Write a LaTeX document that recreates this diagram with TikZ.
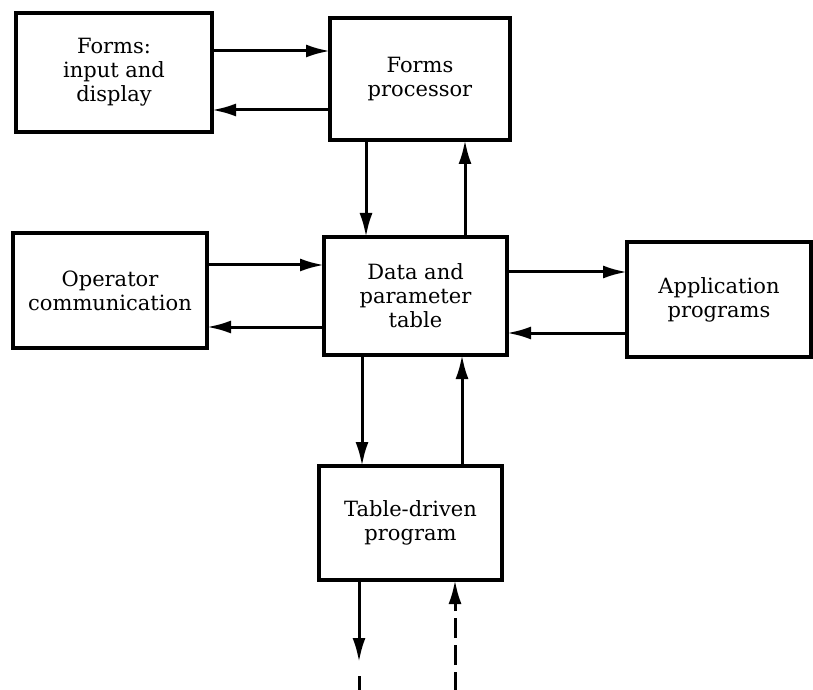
\documentclass[tikz,border=0pt]{standalone}
\usepackage{fontspec}
\setmainfont{DejaVu Serif}
\usetikzlibrary{arrows.meta, positioning}
\tikzset{
  arrowK/.style={-{Latex[length=24pt, width=13pt]}, line width=3pt},
  arrowKd/.style={-{Latex[length=24pt, width=13pt]}, line width=3pt,
                  dash pattern=on 20pt off 7pt},
  boxW/.style={rectangle, draw, line width=3.5pt, fill=white, align=center,
               font=\fontsize{21pt}{24pt}\selectfont, inner sep=4pt, outer sep=0pt},
}

\begin{document}
\begin{tikzpicture}[x=1pt, y=1pt]
    \useasboundingbox (0,0) rectangle (813,689);
    \node[boxW, minimum width=183pt, minimum height=118pt] (data) at (415.5,393)
          {Data and\\parameter\\table};
    \node[boxW, above=97pt of data, xshift=4.5pt, minimum width=180pt, minimum height=122pt]
          (fproc) {Forms\\processor};
    \node[boxW, left=118pt of fproc, yshift=6.5pt, minimum width=196pt, minimum height=119pt]
          (fin) {Forms:\\input and\\display};
    \node[boxW, left=117pt of data, yshift=5.5pt, minimum width=194pt, minimum height=115pt]
          (oper) {Operator\\communication};
    \node[boxW, right=120pt of data, yshift=-3.5pt, minimum width=184pt, minimum height=115pt]
          (app) {Application\\programs};
    \node[boxW, below=111pt of data, xshift=-5pt, minimum width=183pt, minimum height=114pt]
          (tdp) {Table-driven\\program};
    % forms loop
    \draw[arrowK] ([yshift=21.5pt]fin.east) -- ([yshift=21.5pt]fin.east -| fproc.west);
    \draw[arrowK] ([yshift=-31pt]fproc.west) -- ([yshift=-31pt]fproc.west -| fin.east);
    \draw[arrowK] ([xshift=-54pt]fproc.south) -- ([xshift=-54pt]fproc.south |- data.north);
    \draw[arrowK] ([xshift=49.5pt]data.north) -- ([xshift=49.5pt]data.north |- fproc.south);
    % side boxes
    \draw[arrowK] ([yshift=25.5pt]oper.east) -- ([yshift=25.5pt]oper.east -| data.west);
    \draw[arrowK] ([yshift=-31pt]data.west) -- ([yshift=-31pt]data.west -| oper.east);
    \draw[arrowK] ([yshift=24pt]data.east) -- ([yshift=24pt]data.east -| app.west);
    \draw[arrowK] ([yshift=-33.5pt]app.west) -- ([yshift=-33.5pt]app.west -| data.east);
    % table-driven program
    \draw[arrowK] ([xshift=-53.5pt]data.south) -- ([xshift=-53.5pt]data.south |- tdp.north);
    \draw[arrowK] ([xshift=51.5pt]tdp.north) -- ([xshift=51.5pt]tdp.north |- data.south);
    \coordinate (dnTip) at ([xshift=-51.5pt, yshift=-82pt]tdp.south);
    \coordinate (dnEnd) at ([yshift=-30pt]dnTip);
    \coordinate (upEnd) at ([xshift=44.5pt, yshift=-112pt]tdp.south);
    \draw[arrowK] ([xshift=-51.5pt]tdp.south) -- (dnTip);
    \draw[line width=3pt, dash pattern=on 20pt off 7pt, shorten <=14pt] (dnTip) -- (dnEnd);
    \draw[arrowKd] (upEnd) -- ([xshift=44.5pt]tdp.south);
\end{tikzpicture}
\end{document}
